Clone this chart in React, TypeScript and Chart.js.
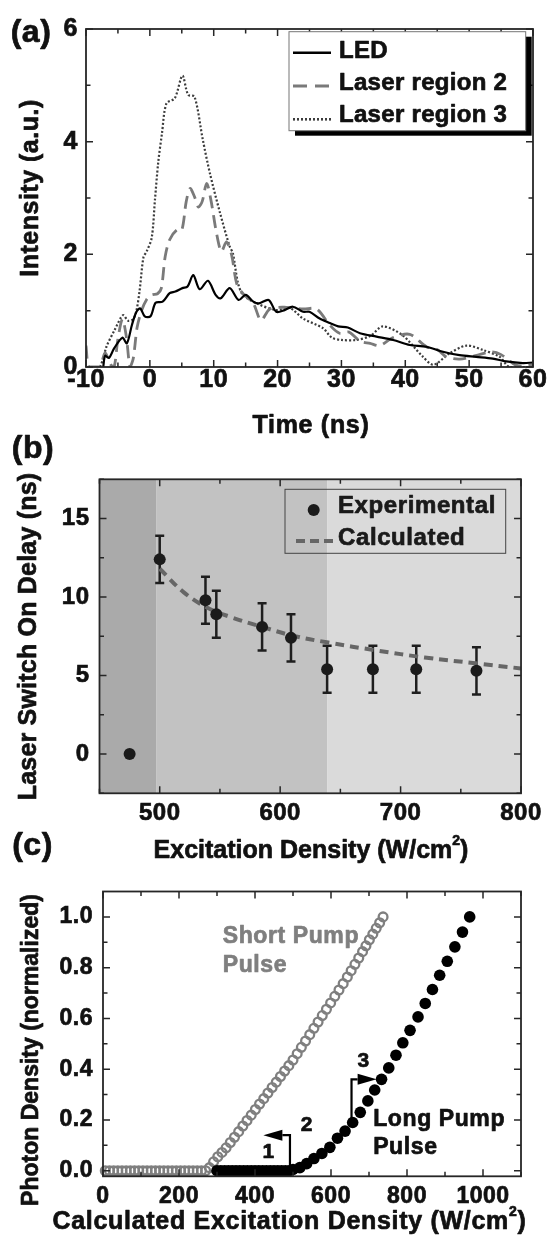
import React, { useEffect, useRef } from "react";
import { Chart, registerables } from "chart.js";
Chart.register(...registerables);

const FF = "'Liberation Sans', Arial, Helvetica, sans-serif";
const W = 550;

// ---------------- Panel (a) data ----------------
const ledTime = [-7.3, -7.0, -6.4, -5.6, -4.3, -3.6, -2.8, -2.1, -1.5, -0.8, 0.1, 0.9, 2.0, 3.1, 4.0, 5.1, 5.9, 6.8, 7.8, 9.1, 10.3, 11.1, 12.5, 13.9, 15.0, 16.2, 17.1, 18.6, 19.8, 21.1, 22.4, 24.0, 25.0, 26.6, 28.2, 29.5, 31.0, 32.9, 35.5, 38.1, 40.7, 43.3, 45.9, 48.5, 51.1, 53.7, 55.8, 58.4, 60.0];
const ledIntensity = [0.0, 0.2, 0.16, 0.33, 0.52, 0.42, 0.75, 0.98, 1.04, 0.9, 0.9, 1.14, 1.16, 1.31, 1.34, 1.4, 1.43, 1.63, 1.38, 1.53, 1.28, 1.22, 1.4, 1.19, 1.28, 1.16, 1.13, 1.19, 0.98, 1.01, 1.07, 0.98, 0.98, 0.86, 0.78, 0.72, 0.7, 0.6, 0.54, 0.48, 0.39, 0.36, 0.27, 0.21, 0.18, 0.15, 0.1, 0.07, 0.08];

const region2Time = [-10, -9.5, -7.9, -7.0, -6.2, -5.6, -5.0, -4.3, -3.7, -3.1, -2.6, -2.0, -1.3, -0.5, 0.3, 1.2, 1.8, 2.4, 3.1, 4.2, 5.0, 5.7, 6.3, 7.0, 7.6, 8.2, 8.9, 9.6, 10.4, 11.2, 12.0, 12.8, 13.6, 14.6, 16.2, 17.4, 18.8, 21.4, 24.0, 26.1, 28.2, 29.7, 31.2, 32.9, 34.5, 36.0, 38.0, 40.7, 43.3, 45.1, 46.4, 48.5, 51.0, 53.5, 55.0, 57.2, 58.5, 60.0];
const region2Intensity = [0.38, 0.0, 0.0, 0.25, 0.05, 0.0, 0.5, 0.85, 0.55, 0.0, 0.15, 0.7, 1.0, 1.2, 1.28, 1.3, 1.4, 1.96, 2.26, 2.43, 2.43, 2.94, 3.17, 3.02, 2.84, 2.94, 3.26, 2.94, 2.4, 2.05, 2.22, 1.99, 1.48, 1.3, 1.13, 0.83, 1.03, 1.06, 1.03, 1.03, 0.74, 0.6, 0.62, 0.46, 0.42, 0.38, 0.52, 0.58, 0.36, 0.3, 0.18, 0.14, 0.2, 0.27, 0.22, 0.04, 0.02, 0.04];

const region3Time = [-7.8, -7.3, -6.8, -5.5, -4.2, -3.4, -2.6, -2.1, -1.6, -1.0, -0.5, 0.3, 0.8, 1.3, 1.9, 2.6, 3.9, 5.1, 6.0, 7.0, 8.3, 9.4, 11.0, 12.5, 13.0, 13.8, 14.6, 16.7, 19.8, 21.9, 24.0, 27.1, 28.5, 30.0, 32.3, 34.5, 36.5, 39.6, 42.6, 44.4, 46.9, 49.6, 52.2, 54.8, 56.3, 60.0];
const region3Intensity = [0.0, 0.15, 0.36, 0.66, 0.92, 0.82, 0.85, 1.0, 1.36, 1.95, 2.05, 2.3, 2.97, 3.62, 4.15, 4.68, 4.77, 5.17, 4.83, 4.8, 4.03, 3.44, 2.73, 2.14, 2.02, 1.49, 1.28, 1.13, 1.01, 1.05, 0.86, 0.69, 0.52, 0.48, 0.48, 0.55, 0.72, 0.56, 0.2, 0.04, 0.24, 0.38, 0.3, 0.18, 0.0, 0.0];

const aSeriesNames = ["LED", "Laser region 2", "Laser region 3"];
const aXTicks = [-10, -5, 0, 5, 10, 15, 20, 25, 30, 35, 40, 45, 50, 55, 60];
const aXLabels = [-10, 0, 10, 20, 30, 40, 50, 60];
const aYTicks = [0, 1, 2, 3, 4, 5, 6];
const aYLabels = [0, 2, 4, 6];

// ---------------- Panel (b) data ----------------
const bExpDensity = [475, 500, 538, 547, 585, 609, 639, 677, 713, 763];
const bExpDelay = [0, 12.4, 9.8, 8.9, 8.1, 7.4, 5.4, 5.4, 5.4, 5.3];
const bExpError = [0, 1.5, 1.5, 1.5, 1.5, 1.5, 1.5, 1.5, 1.5, 1.5];
const bCalcDensity = [500, 520, 540, 560, 585, 610, 640, 680, 720, 760, 800];
const bCalcDelay = [11.8, 10.3, 9.3, 8.7, 8.1, 7.55, 7.1, 6.6, 6.15, 5.8, 5.45];
const bRegionEdges = [450, 497, 639, 800];
const bSeriesNames = ["Experimental", "Calculated"];
const bXTicks = [450, 500, 550, 600, 650, 700, 750, 800];
const bXLabels = [500, 600, 700, 800];
const bYTicks = [-2.5, 0, 2.5, 5, 7.5, 10, 12.5, 15, 17.5];
const bYLabels = [0, 5, 10, 15];

// ---------------- Panel (c) data ----------------
const shortDensity = [6, 17, 28, 39, 50, 61, 72, 83, 94, 105, 116, 127, 138, 149, 160, 171, 182, 193, 204, 215, 226, 237, 248, 259, 270,
  280, 291, 302, 313, 324, 335, 346, 357, 368, 379, 390, 401, 412, 423, 434, 445, 456, 467, 478, 489, 500, 511, 522, 533, 544, 555, 566, 577, 588, 599, 610, 621, 632, 643, 653, 663, 673, 683, 692, 701, 710, 719, 728, 737];
const shortPhoton = [0, 0, 0, 0, 0, 0, 0, 0, 0, 0, 0, 0, 0, 0, 0, 0, 0, 0, 0, 0, 0, 0, 0, 0, 0,
  0.012, 0.035, 0.055, 0.072, 0.09, 0.111, 0.132, 0.154, 0.176, 0.198, 0.219, 0.241, 0.263, 0.284, 0.306, 0.328, 0.349, 0.371, 0.393, 0.414, 0.436, 0.461, 0.486, 0.511, 0.536, 0.561, 0.586, 0.611, 0.636, 0.661, 0.687, 0.712, 0.737, 0.763, 0.788, 0.813, 0.838, 0.863, 0.886, 0.91, 0.932, 0.955, 0.977, 1.0];
const longDensity = [300, 310, 320, 330, 340, 350, 360, 370, 380, 390, 400, 410, 420, 430, 440, 450, 460, 470, 480, 490,
  500, 518, 536, 555, 576, 597, 617, 637, 657, 677, 697, 715, 733, 752, 771, 789, 808, 829, 848, 867, 886, 906, 926, 946, 965];
const longPhoton = [0, 0, 0, 0, 0, 0, 0, 0, 0, 0, 0, 0, 0, 0, 0, 0, 0, 0, 0, 0,
  0.005, 0.012, 0.028, 0.048, 0.068, 0.092, 0.128, 0.156, 0.19, 0.23, 0.275, 0.318, 0.36, 0.405, 0.455, 0.504, 0.553, 0.606, 0.659, 0.714, 0.77, 0.825, 0.882, 0.94, 1.0];
const cXTicks = [0, 100, 200, 300, 400, 500, 600, 700, 800, 900, 1000, 1100];
const cXLabels = [0, 200, 400, 600, 800, 1000];
const cYTicks = [0, 0.1, 0.2, 0.3, 0.4, 0.5, 0.6, 0.7, 0.8, 0.9, 1.0];
const cYLabels = [0, 0.2, 0.4, 0.6, 0.8, 1.0];
// annotation arrows (data coordinates): vertical stem then horizontal arrow
const arrow1X = [492, 492, 422];
const arrow1Y = [0.02, 0.14, 0.14];
const arrow3X = [654, 654, 720];
const arrow3Y = [0.195, 0.36, 0.36];
const regionNumbers = ["1", "2", "3"];
const regionNumberX = [435, 536, 685];
const regionNumberY = [0.073, 0.181, 0.43];
const curveNames = [["Short Pump", "Pulse"], ["Long Pump", "Pulse"]];
const curveNameX = [315, 711];
const curveNameY = [[0.924, 0.806], [0.203, 0.089]];

// ---------------- helpers ----------------
const TEXT_STROKE = 0.7;

function drawText(ctx: any, s: string, x: number, y: number, o: any = {}) {
  const { size = 24, color = "#111", align = "center", spacing = 0, rot = 0 } = o;
  ctx.save();
  ctx.font = `bold ${size}px ${FF}`;
  ctx.letterSpacing = `${spacing}px`;
  ctx.fillStyle = color;
  ctx.strokeStyle = color;
  ctx.lineWidth = TEXT_STROKE;
  ctx.lineJoin = "round";
  ctx.textAlign = align;
  ctx.textBaseline = "middle";
  ctx.translate(x, y);
  if (rot) ctx.rotate(rot);
  ctx.fillText(s, 0, 0);
  ctx.strokeText(s, 0, 0);
  ctx.restore();
}

function drawSupText(ctx: any, parts: string[], cx: number, cy: number, size: number, spacing: number) {
  ctx.save();
  ctx.letterSpacing = `${spacing}px`;
  ctx.fillStyle = "#111";
  ctx.strokeStyle = "#111";
  ctx.lineWidth = TEXT_STROKE;
  ctx.lineJoin = "round";
  ctx.textBaseline = "middle";
  ctx.textAlign = "left";
  const big = `bold ${size}px ${FF}`;
  const small = `bold ${Math.round(size * 0.58)}px ${FF}`;
  ctx.font = big;
  const w1 = ctx.measureText(parts[0]).width;
  const w3 = ctx.measureText(parts[2]).width;
  ctx.font = small;
  const w2 = ctx.measureText(parts[1]).width;
  let x = cx - (w1 + w2 + w3) / 2;
  const put = (s: string, px: number, py: number) => { ctx.fillText(s, px, py); ctx.strokeText(s, px, py); };
  ctx.font = big;
  put(parts[0], x, cy);
  x += w1;
  ctx.font = small;
  put(parts[1], x, cy - size * 0.4);
  x += w2;
  ctx.font = big;
  put(parts[2], x, cy);
  ctx.restore();
}

function drawFrameTicks(chart: any) {
  const { ctx, chartArea: a, scales } = chart;
  const x = scales.x, y = scales.y;
  ctx.save();
  ctx.letterSpacing = "0px";
  ctx.strokeStyle = "#262626";
  ctx.lineWidth = 1.5;
  ctx.beginPath();
  x.ticks.forEach((t: any) => {
    const p = x.getPixelForValue(t.value);
    const L = t.label ? 7 : 4.5;
    ctx.moveTo(p, a.bottom); ctx.lineTo(p, a.bottom - L);
    ctx.moveTo(p, a.top); ctx.lineTo(p, a.top + L);
  });
  y.ticks.forEach((t: any) => {
    const p = y.getPixelForValue(t.value);
    const L = t.label ? 7 : 4.5;
    ctx.moveTo(a.left, p); ctx.lineTo(a.left + L, p);
    ctx.moveTo(a.right, p); ctx.lineTo(a.right - L, p);
  });
  ctx.stroke();
  ctx.lineWidth = 1.8;
  ctx.strokeRect(a.left, a.top, a.right - a.left, a.bottom - a.top);
  ctx.restore();
}

function pts(xs: number[], ys: number[]) {
  return xs.map((x, i) => ({ x, y: ys[i] }));
}

type Geo = { offset: number; height: number; left: number; right: number; top: number; bottom: number };

function makeScale(axis: "x" | "y", geo: Geo, min: number, max: number, ticks: number[], labels: number[], fmt: (v: number) => string, size: number, pad: number) {
  return {
    type: "linear",
    position: axis === "x" ? "bottom" : "left",
    min,
    max,
    afterBuildTicks: (s: any) => { s.ticks = ticks.map((v) => ({ value: v })); },
    afterFit: (s: any) => {
      if (axis === "x") s.height = geo.height - (geo.bottom - geo.offset);
      else s.width = geo.left;
    },
    ticks: {
      autoSkip: false,
      maxRotation: 0,
      minRotation: 0,
      padding: pad,
      color: "#111",
      textStrokeColor: "#111",
      textStrokeWidth: TEXT_STROKE,
      font: { family: FF, size, weight: "bold", lineHeight: 1 },
      callback: (v: number) => (labels.some((l) => Math.abs(l - v) < 1e-9) ? fmt(v) : ""),
    },
    grid: { display: false, drawTicks: false },
    border: { display: false },
  };
}

function baseOptions(geo: Geo, scales: any) {
  return {
    responsive: false,
    animation: false,
    events: [],
    layout: { padding: { left: 0, top: geo.top - geo.offset, right: W - geo.right, bottom: 0 } },
    plugins: { legend: { display: false }, tooltip: { enabled: false }, title: { display: false } },
    scales,
  };
}

const spacingPlugin = (px: number) => ({
  id: "spacing",
  beforeLayout(chart: any) { chart.ctx.letterSpacing = `${px}px`; },
  beforeDraw(chart: any) { chart.ctx.letterSpacing = `${px}px`; },
});

// ---------------- panel (a) ----------------
const geoA: Geo = { offset: 0, height: 445, left: 86, right: 533, top: 29, bottom: 367 };
const aStyles = [
  { color: "#000000", width: 2.2, dash: [] as number[] },
  { color: "#7a7a7a", width: 2.8, dash: [13, 7] },
  { color: "#3c3c3c", width: 2.2, dash: [2, 2] },
];

function buildA() {
  const g = geoA;
  const Y = (v: number) => v - g.offset;
  const series = [pts(ledTime, ledIntensity), pts(region2Time, region2Intensity), pts(region3Time, region3Intensity)];
  return {
    type: "scatter",
    data: {
      datasets: series.map((d, i) => ({
        label: aSeriesNames[i],
        data: d,
        showLine: true,
        borderColor: aStyles[i].color,
        borderWidth: aStyles[i].width,
        borderDash: aStyles[i].dash,
        pointRadius: 0,
        tension: 0.3,
      })),
    },
    options: baseOptions(g, {
      x: makeScale("x", g, -10, 60, aXTicks, aXLabels, (v) => String(v), 25, 0.5),
      y: makeScale("y", g, 0, 6, aYTicks, aYLabels, (v) => String(v), 25, 8),
    }),
    plugins: [
      spacingPlugin(0.5),
      {
        id: "decorA",
        afterDraw(chart: any) {
          const ctx = chart.ctx;
          drawFrameTicks(chart);
          drawText(ctx, "(a)", 31, Y(33.5), { size: 32, spacing: 0.5 });
          drawText(ctx, "Time (ns)", 311, Y(426), { size: 25, spacing: 0.7 });
          drawText(ctx, "Intensity (a.u.)", 31.5, Y(188), { size: 25, spacing: 0.5, rot: -Math.PI / 2 });
          // legend
          const L = 289, R = 525.7, T = Y(31.7), B = Y(130.7);
          ctx.save();
          ctx.fillStyle = "#000";
          ctx.fillRect(L + 6, T + 5, R - L, B - T);
          ctx.fillStyle = "#fff";
          ctx.fillRect(L, T, R - L, B - T);
          ctx.strokeStyle = "#777";
          ctx.lineWidth = 1;
          ctx.strokeRect(L, T, R - L, B - T);
          const rows = [52.7, 86, 119.3];
          rows.forEach((ry, i) => {
            ctx.beginPath();
            ctx.strokeStyle = aStyles[i].color;
            ctx.lineWidth = aStyles[i].width + 0.4;
            ctx.setLineDash(i === 1 ? [14, 8] : aStyles[i].dash);
            ctx.moveTo(293, Y(ry));
            ctx.lineTo(331, Y(ry));
            ctx.stroke();
          });
          ctx.setLineDash([]);
          ctx.restore();
          const ty = [51.5, 83.5, 115.5];
          aSeriesNames.forEach((n, i) => drawText(ctx, n, 339, Y(ty[i]), { size: 24, spacing: 0.3, align: "left" }));
        },
      },
    ],
  };
}

// ---------------- panel (b) ----------------
const geoB: Geo = { offset: 428, height: 442, left: 99.5, right: 523.5, top: 479.3, bottom: 793.3 };
const bRegionColors = ["#aaaaaa", "#c2c2c2", "#dadada"];

function buildB() {
  const g = geoB;
  const Y = (v: number) => v - g.offset;
  return {
    type: "scatter",
    data: {
      datasets: [
        {
          label: bSeriesNames[0],
          data: pts(bExpDensity, bExpDelay),
          pointRadius: 6,
          pointBackgroundColor: "#1b1b1b",
          pointBorderWidth: 0,
          clip: false,
        },
        {
          label: bSeriesNames[1],
          data: pts(bCalcDensity, bCalcDelay),
          showLine: true,
          borderColor: "#666666",
          borderWidth: 4,
          borderDash: [9, 6],
          pointRadius: 0,
          tension: 0.4,
        },
      ],
    },
    options: baseOptions(g, {
      x: makeScale("x", g, 450, 800, bXTicks, bXLabels, (v) => String(v), 24, 8.2),
      y: makeScale("y", g, -2.5, 17.5, bYTicks, bYLabels, (v) => String(v), 24, 10),
    }),
    plugins: [
      spacingPlugin(0.5),
      {
        id: "decorB",
        beforeDatasetsDraw(chart: any) {
          const { ctx, chartArea: a, scales } = chart;
          ctx.save();
          for (let i = 0; i < bRegionEdges.length - 1; i++) {
            const x0 = scales.x.getPixelForValue(bRegionEdges[i]);
            const x1 = scales.x.getPixelForValue(bRegionEdges[i + 1]);
            ctx.fillStyle = bRegionColors[i];
            ctx.fillRect(x0, a.top, x1 - x0, a.bottom - a.top);
          }
          ctx.strokeStyle = "#1e1e1e";
          ctx.lineWidth = 2.5;
          bExpDensity.forEach((d, i) => {
            if (!bExpError[i]) return;
            const px = scales.x.getPixelForValue(d);
            const y0 = scales.y.getPixelForValue(bExpDelay[i] - bExpError[i]);
            const y1 = scales.y.getPixelForValue(bExpDelay[i] + bExpError[i]);
            ctx.beginPath();
            ctx.moveTo(px, y0); ctx.lineTo(px, y1);
            ctx.moveTo(px - 4.5, y0); ctx.lineTo(px + 4.5, y0);
            ctx.moveTo(px - 4.5, y1); ctx.lineTo(px + 4.5, y1);
            ctx.stroke();
          });
          ctx.restore();
        },
        afterDraw(chart: any) {
          const ctx = chart.ctx;
          drawFrameTicks(chart);
          drawText(ctx, "(b)", 33, Y(449), { size: 32, spacing: 0.5 });
          drawText(ctx, "(c)", 32.5, Y(846), { size: 32, spacing: 0.5 });
          drawText(ctx, "Laser Switch On Delay (ns)", 29.5, Y(636.5), { size: 25, spacing: 0.2, rot: -Math.PI / 2 });
          drawSupText(ctx, ["Excitation Density (W/cm", "2", ")"], 311, Y(851.5), 25, 0);
          // legend
          ctx.save();
          ctx.strokeStyle = "#444";
          ctx.lineWidth = 1;
          ctx.strokeRect(285, Y(489.3), 505.7 - 285, 553.3 - 489.3);
          ctx.fillStyle = "#1b1b1b";
          ctx.beginPath();
          ctx.arc(313.7, Y(510), 6, 0, Math.PI * 2);
          ctx.fill();
          ctx.strokeStyle = "#666666";
          ctx.lineWidth = 4;
          ctx.setLineDash([9, 5]);
          ctx.beginPath();
          ctx.moveTo(296, Y(541));
          ctx.lineTo(335, Y(541));
          ctx.stroke();
          ctx.restore();
          drawText(ctx, bSeriesNames[0], 338, Y(506.7), { size: 24, spacing: 0.6, align: "left", color: "#1a1a1a" });
          drawText(ctx, bSeriesNames[1], 338, Y(538), { size: 24, spacing: 0.6, align: "left", color: "#1a1a1a" });
        },
      },
    ],
  };
}

// ---------------- panel (c) ----------------
const geoC: Geo = { offset: 870, height: 372, left: 103, right: 521, top: 883.3, bottom: 1176.3 };

function drawArrow(ctx: any, sx: any, sy: any, xs: number[], ys: number[]) {
  const p = xs.map((x, i) => [sx.getPixelForValue(x), sy.getPixelForValue(ys[i])]);
  const n = p.length;
  const [tx, ty] = p[n - 1];
  const [bx] = p[n - 2];
  const dir = tx > bx ? 1 : -1;
  const head = 19;
  ctx.save();
  ctx.strokeStyle = "#000";
  ctx.fillStyle = "#000";
  ctx.lineWidth = 2.2;
  ctx.beginPath();
  ctx.moveTo(p[0][0], p[0][1]);
  for (let i = 1; i < n - 1; i++) ctx.lineTo(p[i][0], p[i][1]);
  ctx.lineTo(tx - dir * head, ty);
  ctx.stroke();
  ctx.beginPath();
  ctx.moveTo(tx, ty);
  ctx.lineTo(tx - dir * head, ty - 5.5);
  ctx.lineTo(tx - dir * head, ty + 5.5);
  ctx.closePath();
  ctx.fill();
  ctx.restore();
}

function buildC() {
  const g = geoC;
  const Y = (v: number) => v - g.offset;
  return {
    type: "scatter",
    data: {
      datasets: [
        {
          label: "Long Pump Pulse",
          data: pts(longDensity, longPhoton),
          pointRadius: 5.8,
          pointBackgroundColor: "#000",
          pointBorderWidth: 0,
          clip: false,
        },
        {
          label: "Short Pump Pulse",
          data: pts(shortDensity, shortPhoton),
          pointRadius: 4.4,
          pointBackgroundColor: "rgba(255,255,255,0)",
          pointBorderColor: "#7f7f7f",
          pointBorderWidth: 2.3,
          clip: false,
        },
      ],
    },
    options: baseOptions(g, {
      x: makeScale("x", g, 0, 1100, cXTicks, cXLabels, (v) => String(v), 23, 9),
      y: makeScale("y", g, -0.022, 1.1, cYTicks, cYLabels, (v) => v.toFixed(1), 23, 10),
    }),
    plugins: [
      spacingPlugin(0.5),
      {
        id: "decorC",
        afterDraw(chart: any) {
          const { ctx, scales } = chart;
          drawFrameTicks(chart);
          drawArrow(ctx, scales.x, scales.y, arrow1X, arrow1Y);
          drawArrow(ctx, scales.x, scales.y, arrow3X, arrow3Y);
          regionNumbers.forEach((s, i) =>
            drawText(ctx, s, scales.x.getPixelForValue(regionNumberX[i]), scales.y.getPixelForValue(regionNumberY[i]), { size: 21 })
          );
          curveNames.forEach((lines, i) =>
            lines.forEach((s, j) =>
              drawText(ctx, s, scales.x.getPixelForValue(curveNameX[i]), scales.y.getPixelForValue(curveNameY[i][j]), {
                size: 23, spacing: 0.6, align: "left", color: i === 0 ? "#7f7f7f" : "#111",
              })
            )
          );
          drawText(ctx, "Photon Density (normalized)", 31.7, Y(1050), { size: 23, spacing: 0, rot: -Math.PI / 2 });
          drawSupText(ctx, ["Calculated Excitation Density (W/cm", "2", ")"], 289.5, Y(1222), 25, 0.7);
        },
      },
    ],
  };
}

// ---------------- components ----------------
function ChartPanel({ top, height, build }: { top: number; height: number; build: () => any }) {
  const ref = useRef<HTMLCanvasElement>(null);
  useEffect(() => {
    const c = new Chart(ref.current as HTMLCanvasElement, build());
    return () => c.destroy();
  }, []);
  return (
    <canvas
      ref={ref}
      width={W}
      height={height}
      style={{ position: "absolute", left: 0, top, width: W, height }}
    />
  );
}

export default function App() {
  return (
    <div style={{ position: "absolute", left: 0, top: 0, width: W, height: 1242, background: "#fff", overflow: "hidden" }}>
      <ChartPanel top={geoA.offset} height={geoA.height} build={buildA} />
      <ChartPanel top={geoB.offset} height={geoB.height} build={buildB} />
      <ChartPanel top={geoC.offset} height={geoC.height} build={buildC} />
    </div>
  );
}
